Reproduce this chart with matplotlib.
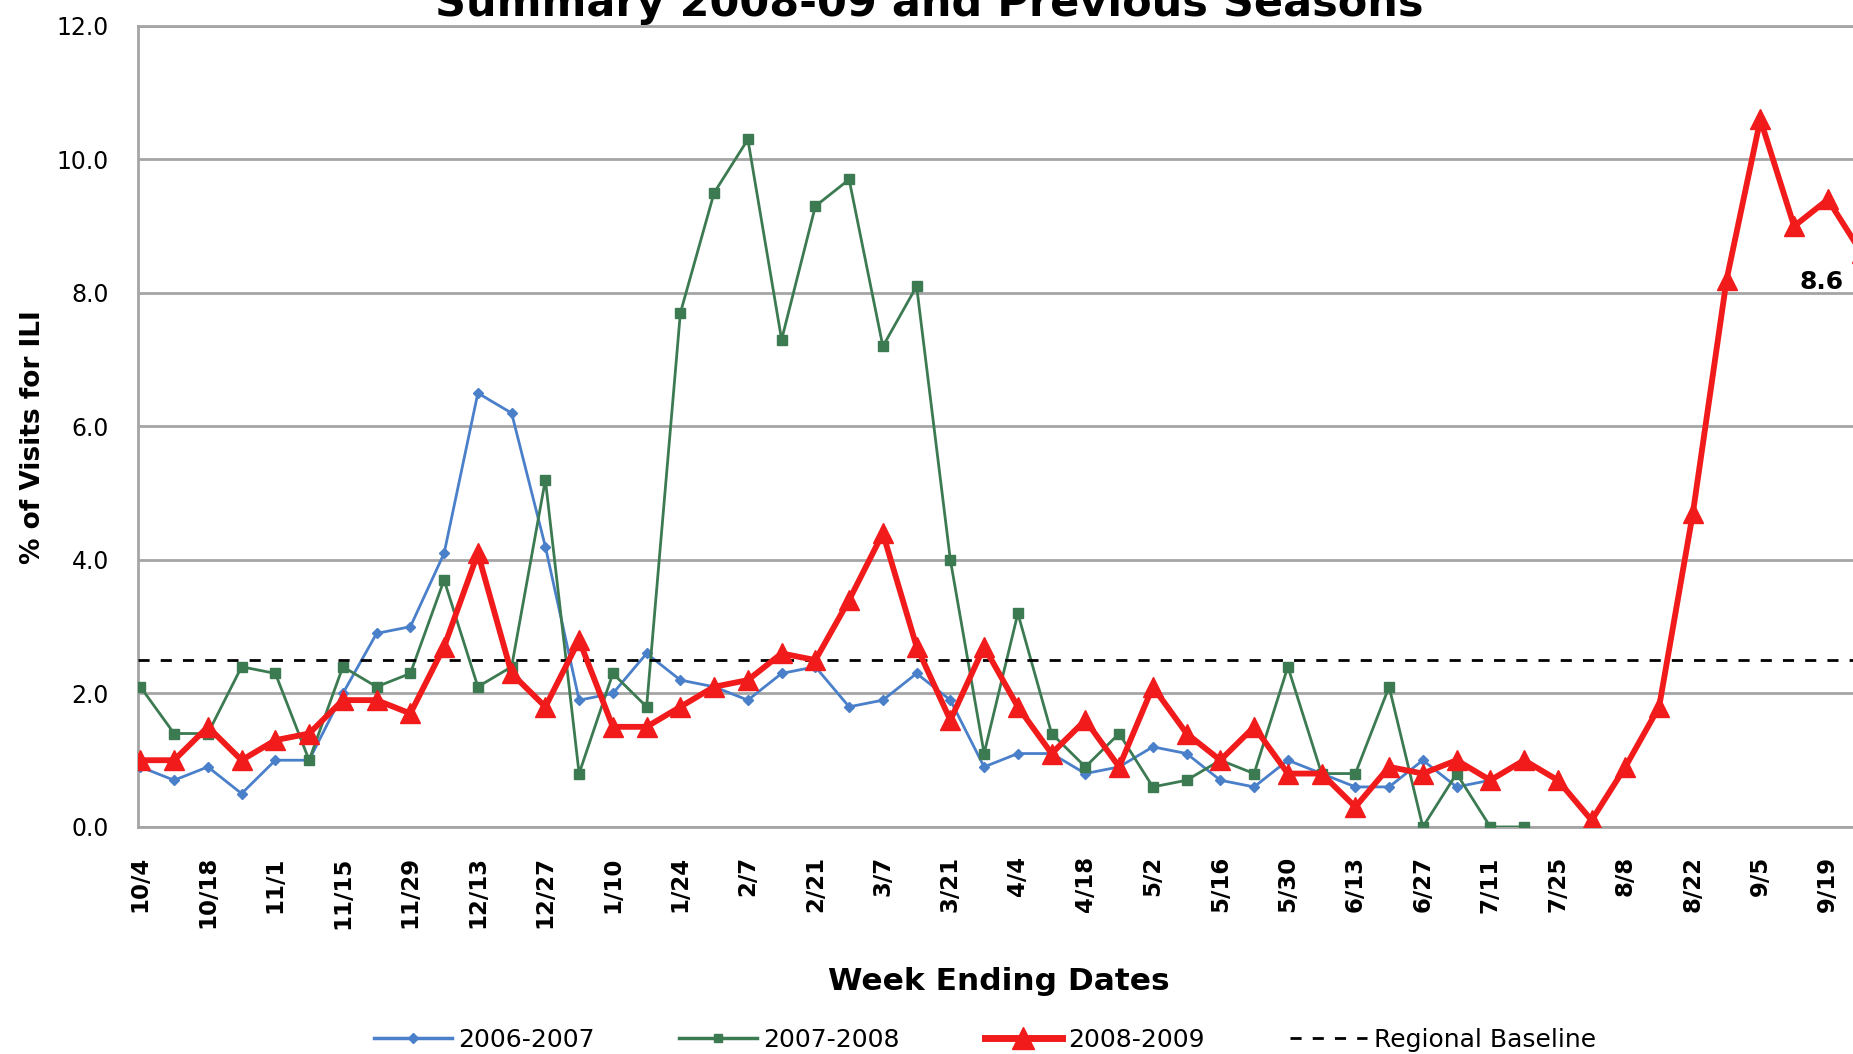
import numpy as np
import matplotlib
matplotlib.use("Agg")
import matplotlib.pyplot as plt
from matplotlib.lines import Line2D

weeks = ["10/4", "10/11", "10/18", "10/25", "11/1", "11/8", "11/15", "11/22", "11/29", "12/6",
         "12/13", "12/20", "12/27", "1/3", "1/10", "1/17", "1/24", "1/31", "2/7", "2/14",
         "2/21", "2/28", "3/7", "3/14", "3/21", "3/28", "4/4", "4/11", "4/18", "4/25",
         "5/2", "5/9", "5/16", "5/23", "5/30", "6/6", "6/13", "6/20", "6/27", "7/4",
         "7/11", "7/18", "7/25", "8/1", "8/8", "8/15", "8/22", "8/29", "9/5", "9/12",
         "9/19", "9/26"]

s2006_2007 = [0.9, 0.7, 0.9, 0.5, 1.0, 1.0, 2.0, 2.9, 3.0, 4.1,
              6.5, 6.2, 4.2, 1.9, 2.0, 2.6, 2.2, 2.1, 1.9, 2.3,
              2.4, 1.8, 1.9, 2.3, 1.9, 0.9, 1.1, 1.1, 0.8, 0.9,
              1.2, 1.1, 0.7, 0.6, 1.0, 0.8, 0.6, 0.6, 1.0, 0.6,
              0.7]

s2007_2008 = [2.1, 1.4, 1.4, 2.4, 2.3, 1.0, 2.4, 2.1, 2.3, 3.7,
              2.1, 2.4, 5.2, 0.8, 2.3, 1.8, 7.7, 9.5, 10.3, 7.3,
              9.3, 9.7, 7.2, 8.1, 4.0, 1.1, 3.2, 1.4, 0.9, 1.4,
              0.6, 0.7, 1.0, 0.8, 2.4, 0.8, 0.8, 2.1, 0.0, 0.8,
              0.0, 0.0]

s2008_2009 = [1.0, 1.0, 1.5, 1.0, 1.3, 1.4, 1.9, 1.9, 1.7, 2.7,
              4.1, 2.3, 1.8, 2.8, 1.5, 1.5, 1.8, 2.1, 2.2, 2.6,
              2.5, 3.4, 4.4, 2.7, 1.6, 2.7, 1.8, 1.1, 1.6, 0.9,
              2.1, 1.4, 1.0, 1.5, 0.8, 0.8, 0.3, 0.9, 0.8, 1.0,
              0.7, 1.0, 0.7, 0.1, 0.9, 1.8, 4.7, 8.2, 10.6, 9.0,
              9.4, 8.6]

regional_baseline = 2.5
series_labels = ["2006-2007", "2007-2008", "2008-2009", "Regional Baseline"]
yticks = [0, 2, 4, 6, 8, 10, 12]

blue = "#4A7FC9"
green = "#3C7A52"
red = "#F21B1B"
grid_c = "#A5A5A5"

fig = plt.figure(figsize=(18.53, 10.54), dpi=100)
x_left = -0.07
x_right = 51.5
ax = fig.add_axes([138 / 1853, 0.2154, (x_right - x_left) * 33.75 / 1853, 0.7600])

x_all = np.arange(len(weeks))
ax.plot(x_all[:len(s2006_2007)], s2006_2007, color=blue, lw=2.0, marker="D", ms=5.5,
        mfc=blue, mec=blue, zorder=3, label=series_labels[0])
ax.plot(x_all[:len(s2007_2008)], s2007_2008, color=green, lw=2.0, marker="s", ms=6.5,
        mfc=green, mec=green, zorder=4, label=series_labels[1])
ax.axhline(regional_baseline, color="black", lw=2.0, ls=(0, (4, 4)), zorder=5,
           label=series_labels[3])
ax.plot(x_all[:len(s2008_2009)], s2008_2009, color=red, lw=4.2, marker="^", ms=14,
        mfc=red, mec=red, zorder=6, label=series_labels[2])

last = len(s2008_2009) - 1
ax.annotate(f"{s2008_2009[last]:.1f}", xy=(last, s2008_2009[last]), xytext=(-29, -21),
            textcoords="offset points", ha="center", va="center",
            fontsize=18, fontweight="bold", color="black", annotation_clip=False)

ax.set_xlim(x_left, x_right)
ax.set_ylim(0, 12)
ax.set_yticks(yticks)
ax.set_yticklabels([f"{v:.1f}" for v in yticks], fontsize=17)
ax.set_xticks(x_all[::2])
ax.set_xticklabels(weeks[::2], rotation=90, fontsize=16.5, fontweight="bold")
ax.tick_params(axis="y", length=0, pad=21)
ax.tick_params(axis="x", length=0, pad=21)
ax.yaxis.grid(True, color=grid_c, lw=2.0)
ax.set_axisbelow(True)
ax.spines["right"].set_visible(False)
for side in ["left", "bottom", "top"]:
    ax.spines[side].set_color(grid_c)
    ax.spines[side].set_linewidth(2.0)

fig.text(0.5013, 1 - 16 / 1054, "Summary 2008-09 and Previous Seasons", ha="center",
         va="baseline", fontsize=31, fontweight="bold")
fig.text(33 / 1853, 1 - 437 / 1054, "% of Visits for ILI", rotation=90, ha="center",
         va="center", fontsize=19, fontweight="bold")
fig.text(999 / 1853, 1 - 981 / 1054, "Week Ending Dates", ha="center", va="center",
         fontsize=22.5, fontweight="bold")

handles = [
    Line2D([], [], color=blue, lw=2.5, marker="D", ms=5, mfc=blue, mec=blue),
    Line2D([], [], color=green, lw=2.5, marker="s", ms=6, mfc=green, mec=green),
    Line2D([], [], color=red, lw=5, marker="^", ms=16, mfc=red, mec=red),
    Line2D([], [], color="black", lw=2.0, ls=(0, (4, 4))),
]
fig.legend(handles, series_labels, loc="center",
           bbox_to_anchor=(985 / 1853, 1 - 1040 / 1054), ncol=4, frameon=False,
           prop={"size": 18}, handlelength=3.1, handletextpad=0.25,
           columnspacing=3.4)

fig.savefig("out.png", dpi=100)
